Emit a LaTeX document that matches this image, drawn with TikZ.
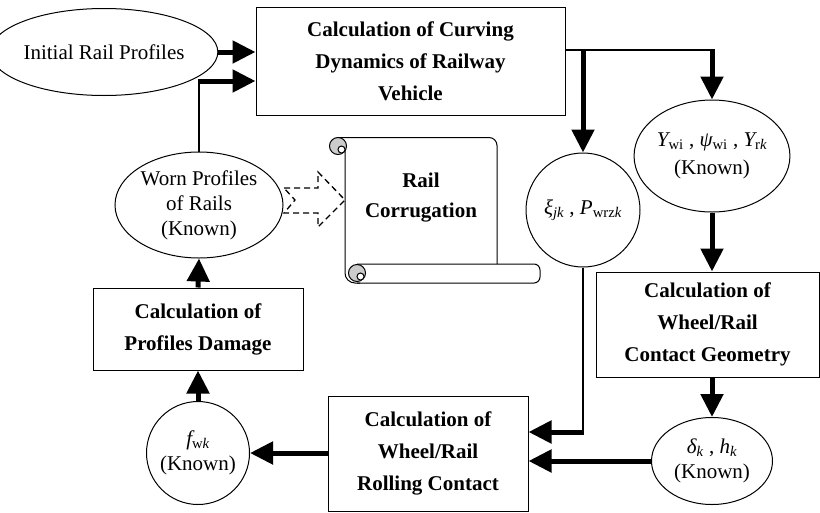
\documentclass[tikz,border=0pt]{standalone}
\usepackage{fontspec}
\setmainfont{Liberation Serif}
\usetikzlibrary{arrows.meta,shapes.geometric}

\begin{document}
\begin{tikzpicture}[x=1pt,y=-1pt,line width=1pt, every node/.style={font=\fontsize{21}{25}\selectfont,inner sep=0pt}, calcbox/.style={draw,rectangle,align=center,font=\fontsize{21}{32}\selectfont\bfseries}, oval/.style={draw,ellipse,align=center}, disc/.style={draw,circle,align=center}, arr/.style={-{Triangle[length=23pt,width=22pt]},line width=5pt}, link/.style={line width=1.8pt}]
\useasboundingbox (0,0) rectangle (820,512);
\node[oval,minimum width=188pt,minimum height=87pt] (init) at (104,52) {Initial Rail Profiles};
\node[calcbox,minimum width=309pt,minimum height=108pt] (calc) at (410.5,61) {Calculation of Curving\\Dynamics of Railway\\Vehicle};
\node[oval,minimum width=168pt,minimum height=106pt] (worn) at (199,205) {Worn Profiles\\of Rails\\(Known)};
\node[calcbox,minimum width=210pt,minimum height=82pt] (dmg) at (198,329) {Calculation of\\Profiles Damage};
\node[disc,minimum size=103pt] (fw) at (198,453) {{\itshape f}\textsubscript{w\itshape k}\\(Known)};
\node[calcbox,minimum width=200pt,minimum height=115pt] (roll) at (428,453.5) {Calculation of\\Wheel/Rail\\Rolling Contact};
\node[disc,minimum size=114pt] (xi) at (583,210) {{\itshape ξ}\textsubscript{\itshape jk} , {\itshape P}\textsubscript{wrz\itshape k}};
\node[oval,minimum width=150pt,minimum height=112pt] (yk) at (712,156) {{\itshape Y}\textsubscript{wi} , {\itshape ψ}\textsubscript{wi} , {\itshape Y}\textsubscript{r\itshape k}\\[3pt](Known)};
\node[calcbox,minimum width=223pt,minimum height=105pt] (geom) at (707.5,324.5) {Calculation of\\Wheel/Rail\\Contact Geometry};
\node[oval,minimum width=121pt,minimum height=87pt] (dk) at (712,461) {{\itshape δ\textsubscript{k}} , {\itshape h\textsubscript{k}}\\(Known)};
% scroll
\draw[rounded corners=8pt] (338,137.5) -- (497,137.5) -- (497,264);
\draw[rounded corners=10pt] (345,150) -- (345,283) -- (360,283);
\draw[rounded corners=6pt] (357,264) -- (540,264) -- (540,283) -- (357,283);
\filldraw[fill=gray!40] (338,146) circle[radius=8.5];
\filldraw[fill=white] (341.5,149.5) circle[radius=3.5];
\filldraw[fill=gray!40] (357,273) circle[radius=8.5];
\filldraw[fill=white] (360.5,276.5) circle[radius=3.5];
\node[align=center,font=\fontsize{21}{30}\selectfont\bfseries] (corr) at (421,198) {Rail\\Corrugation};
\draw[dashed,dash pattern=on 6pt off 4pt,line width=1.3pt] (284,188) -- (318,188) -- (318,172) -- (345,200) -- (318,227) -- (318,213) -- (284,213) -- (295,200) -- cycle;
% connectors
\draw[arr] (init.east) -- (init.east -| calc.west);
\coordinate (bend) at (199,81);
\draw[link] (worn.north) -- (bend);
\draw[arr] ([xshift=-0.9pt]bend) -- (bend -| calc.west);
\coordinate (out) at ([yshift=11pt]calc.east);
\draw[link] (out) -- ([xshift=2.5pt]out -| yk.north);
\draw[arr] (out -| xi.north) -- (xi.north);
\draw[arr] (out -| yk.north) -- (yk.north);
\draw[arr] (yk.south) -- (yk.south |- geom.north);
\draw[arr] (geom.south -| dk.north) -- (dk.north);
\draw[arr] (dk.west) -- (dk.west -| roll.east);
\coordinate (drop) at (583,432);
\draw[link] (xi.south) -- (drop);
\draw[arr] ([xshift=0.9pt]drop) -- (drop -| roll.east);
\draw[arr] (roll.west |- fw.east) -- (fw.east);
\draw[arr] (fw.north) -- (fw.north |- dmg.south);
\draw[arr] (dmg.north) -- (worn.south);
\end{tikzpicture}
\end{document}
